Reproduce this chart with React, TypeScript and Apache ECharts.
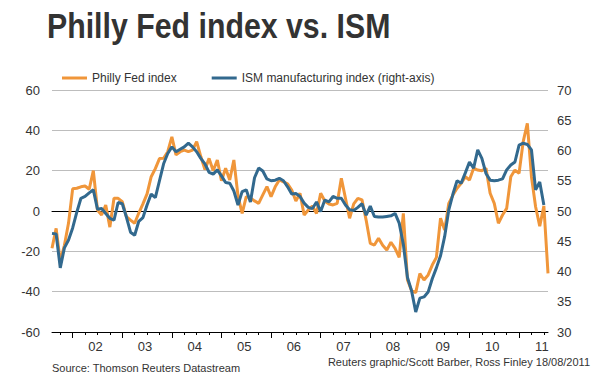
import React, { useEffect, useRef } from "react";
import * as echarts from "echarts";

// Monthly observations, Aug 2001 .. Aug 2011
const START_YEAR = 2001;
const START_MONTH = 8;

const phillyFed: number[] = [
  // 2001 Aug-Dec
  -18.5, -8.6, -25, -17, -6,
  // 2002
  11, 11.3, 12, 12.4, 10.8, 20, 0.5, -2, 3, -8, 6.3, 6.3,
  // 2003
  4.6, -2.8, -4.5, -6.1, -1, 3.5, 8.5, 17, 21, 26, 26.1, 29.4,
  // 2004
  36.8, 27.8, 29.4, 30.2, 29.4, 30.2, 34.4, 27, 20.5, 26.1, 20, 25.3,
  // 2005
  15, 21.2, 15.4, 25.3, 7.5, -1.2, 7.1, 6.5, 5, 3.8, 8, 12.1,
  // 2006
  7.1, 12, 15.4, 14.5, 13.5, 10.4, 5, 8.8, -2, 0.5, 2.5, -1.2,
  // 2007
  8.8, 5, 3.5, 3, 3.8, 16.2, 6.3, -3.6, 3.5, 6.3, 5.5, -4.5,
  // 2008
  -16, -16.9, -13.5, -17, -19.3, -15.5, -18.5, -23, -1.2, -34.2, -39.5, -40.5,
  // 2009
  -31, -34.2, -31.7, -26.8, -23, -3.6, -9.4, 3.8, 7.9, 11.3, 13.7, 17,
  // 2010
  15.4, 21.2, 20.3, 20, 21.2, 8.8, 3.8, -6.1, -2, 1.3, 17, 20.3,
  // 2011 Jan-Aug
  18.7, 34.4, 43.5, 17, 2.1, -7.5, 2.5, -30.9,
];

const ismManufacturing: number[] = [
  // 2001 Aug-Dec
  46.3, 46.2, 40.6, 43.9, 45.2,
  // 2002
  47.2, 49.8, 52.1, 52.4, 53.0, 53.5, 50.3, 50.4, 49.6, 48.8, 48.5, 51.4,
  // 2003
  51.2, 49.0, 46.5, 46.0, 48.3, 48.9, 51.0, 52.8, 52.2, 55.0, 57.8, 59.5,
  // 2004
  60.6, 59.8, 60.2, 60.6, 61.2, 60.6, 59.8, 58.7, 57.8, 56.4, 56.1, 56.8,
  // 2005
  55.8, 54.7, 54.6, 53.3, 51.0, 53.2, 53.5, 51.5, 55.5, 57.1, 56.6, 55.3,
  // 2006
  55.0, 55.1, 55.4, 55.0, 54.0, 52.8, 52.9, 52.4, 51.3, 50.6, 50.4, 51.5,
  // 2007
  49.9, 51.8, 51.5, 52.4, 52.1, 52.1, 51.0, 50.2, 50.1, 50.6, 51.2, 49.3,
  // 2008
  50.8, 49.1, 49.0, 49.0, 49.1, 49.2, 49.6, 48.0, 44.5, 39.0, 36.8, 33.3,
  // 2009
  35.6, 35.8, 36.6, 38.8, 40.6, 42.6, 45.8, 50.2, 52.8, 55.0, 54.6, 56.3,
  // 2010
  58.1, 57.1, 60.1, 58.7, 56.2, 55.1, 55.0, 55.1, 55.3, 56.8, 57.6, 58.1,
  // 2011 Jan-Jul
  60.9, 61.2, 61.0, 60.1, 53.5, 54.8, 51.0,
];

const yearLabels = ["02", "03", "04", "05", "06", "07", "08", "09", "10", "11"];
const leftTicks = { min: -60, max: 60, interval: 20 };
const rightTicks = { min: 30, max: 70, interval: 5 };

const months: string[] = [];
for (let i = 0; i < phillyFed.length; i++) {
  const m0 = START_MONTH - 1 + i;
  const y = START_YEAR + Math.floor(m0 / 12);
  const m = (m0 % 12) + 1;
  months.push(`${y}-${m < 10 ? "0" + m : m}`);
}
const monthOf = (idx: number) => parseInt(months[idx].slice(5), 10);

const FONT = '"Liberation Sans", Arial, Helvetica, sans-serif';
const ORANGE = "#F0963A";
const BLUE = "#32698E";
const TEXT = "#333333";

export default function App() {
  const ref = useRef<HTMLDivElement>(null);
  useEffect(() => {
    if (!ref.current) return;
    const chart = echarts.init(ref.current, undefined, { renderer: "svg" });
    const option: any = {
      animation: false,
      textStyle: { fontFamily: FONT },
      grid: { left: 52, right: 52, top: 90, bottom: 44, containLabel: false },
      legend: {
        left: 57,
        top: 67,
        icon: "rect",
        itemWidth: 25,
        itemHeight: 3,
        itemGap: 35,
        textStyle: { color: TEXT, fontSize: 12, fontFamily: FONT },
        data: ["Philly Fed index", "ISM manufacturing index (right-axis)"],
      },
      graphic: [
        {
          type: "text",
          x: 47,
          y: 25.5,
          scaleX: 0.866,
          style: {
            text: "Philly Fed index vs. ISM",
            font: `bold 35px ${FONT}`,
            fill: TEXT,
            textAlign: "left",
            textVerticalAlign: "middle",
            align: "left",
            verticalAlign: "middle",
          },
        },
        {
          type: "text",
          x: 52,
          y: 368,
          style: {
            text: "Source: Thomson Reuters Datastream",
            font: `11px ${FONT}`,
            fill: TEXT,
            textAlign: "left",
            textVerticalAlign: "middle",
            align: "left",
            verticalAlign: "middle",
          },
        },
        {
          type: "text",
          x: 590,
          y: 361.5,
          style: {
            text: "Reuters graphic/Scott Barber, Ross Finley 18/08/2011",
            font: `11px ${FONT}`,
            fill: TEXT,
            textAlign: "right",
            textVerticalAlign: "middle",
            align: "right",
            verticalAlign: "middle",
          },
        },
      ],
      xAxis: [
        {
          type: "category",
          data: months,
          boundaryGap: false,
          position: "bottom",
          axisLine: { onZero: false, lineStyle: { color: "#000", width: 1 } },
          axisTick: {
            interval: (idx: number) => (monthOf(idx) - 1) % 3 === 0,
            length: 3,
            lineStyle: { color: "#000" },
          },
          axisLabel: {
            interval: (idx: number) => monthOf(idx) === 7,
            formatter: (v: string) => yearLabels[parseInt(v.slice(0, 4), 10) - 2002] ?? "",
            color: TEXT,
            fontSize: 13,
            fontFamily: FONT,
            margin: 8,
            padding: [0, 4, 0, 0],
          },
          splitLine: { show: false },
        },
        {
          type: "category",
          data: months,
          boundaryGap: false,
          position: "bottom",
          axisLine: { show: false, onZero: false },
          axisTick: {
            interval: (idx: number) => monthOf(idx) === 1,
            length: 6,
            lineStyle: { color: "#000" },
          },
          axisLabel: { show: false },
          splitLine: { show: false },
        },
        {
          type: "category",
          data: months,
          boundaryGap: false,
          position: "bottom",
          axisLine: { show: true, onZero: true, onZeroAxisIndex: 0, lineStyle: { color: "#000", width: 1 } },
          axisTick: { show: false },
          axisLabel: { show: false },
          splitLine: { show: false },
        },
      ],
      yAxis: [
        {
          type: "value",
          position: "left",
          min: leftTicks.min,
          max: leftTicks.max,
          interval: leftTicks.interval,
          axisLine: { show: false },
          axisTick: { show: false },
          axisLabel: { color: TEXT, fontSize: 13, fontFamily: FONT, margin: 12 },
          splitLine: { show: true, lineStyle: { color: "#BDBDBD", width: 1 } },
        },
        {
          type: "value",
          position: "right",
          min: rightTicks.min,
          max: rightTicks.max,
          interval: rightTicks.interval,
          axisLine: { show: false },
          axisTick: { show: false },
          axisLabel: { color: TEXT, fontSize: 13, fontFamily: FONT, margin: 9 },
          splitLine: { show: false },
        },
      ],
      series: [
        {
          name: "Philly Fed index",
          type: "line",
          xAxisIndex: 0,
          yAxisIndex: 0,
          data: phillyFed,
          showSymbol: false,
          symbol: "none",
          lineStyle: { color: ORANGE, width: 3 },
          itemStyle: { color: ORANGE },
          z: 3,
        },
        {
          name: "ISM manufacturing index (right-axis)",
          type: "line",
          xAxisIndex: 0,
          yAxisIndex: 1,
          data: ismManufacturing,
          showSymbol: false,
          symbol: "none",
          lineStyle: { color: BLUE, width: 3 },
          itemStyle: { color: BLUE },
          z: 4,
        },
      ],
    };
    chart.setOption(option);
    return () => chart.dispose();
  }, []);
  return (
    <div
      ref={ref}
      style={{ position: "fixed", left: 0, top: 0, width: 600, height: 376, background: "#fff" }}
    />
  );
}
